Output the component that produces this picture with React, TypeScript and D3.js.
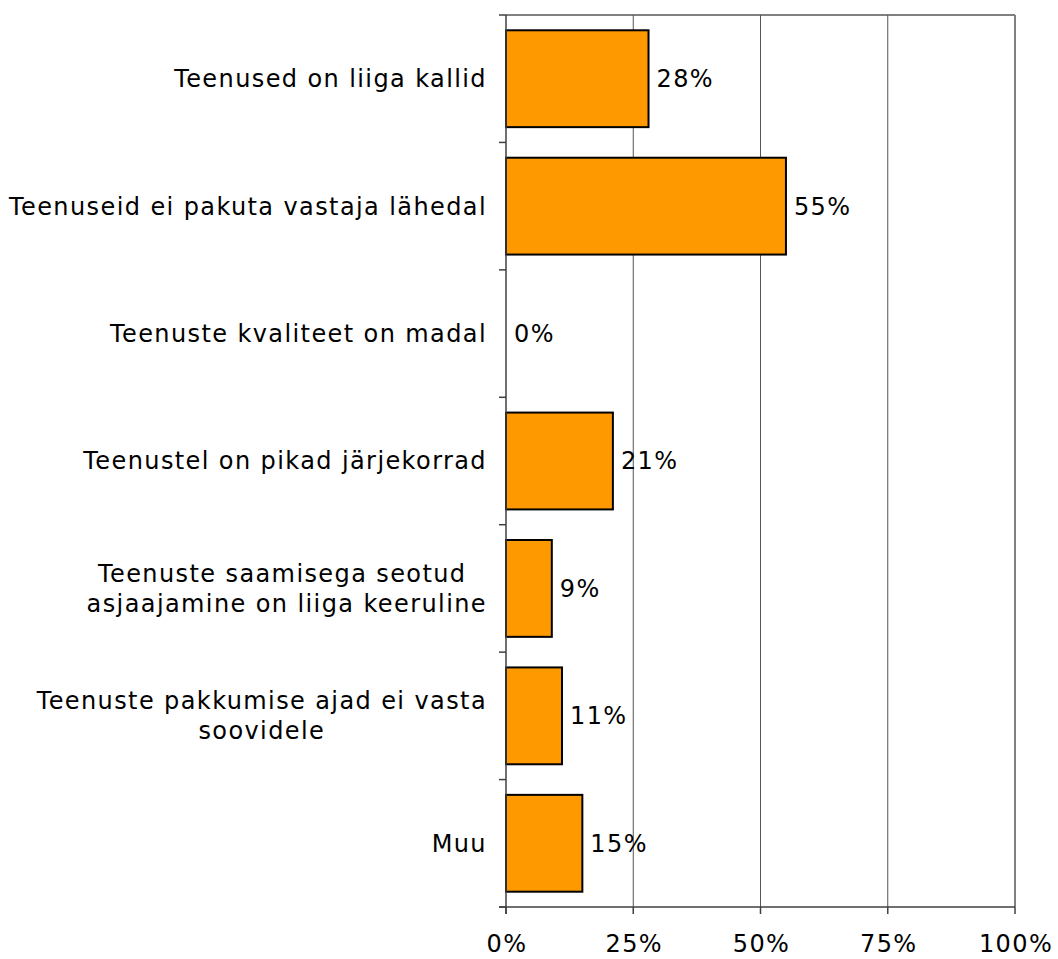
import React, { useRef, useEffect } from 'react';
import * as d3 from 'd3';

const categories = [
  'Teenused on liiga kallid',
  'Teenuseid ei pakuta vastaja lähedal',
  'Teenuste kvaliteet on madal',
  'Teenustel on pikad järjekorrad',
  'Teenuste saamisega seotud \nasjaajamine on liiga keeruline',
  'Teenuste pakkumise ajad ei vasta\nsoovidele',
  'Muu',
];
const values = [0.28, 0.55, 0, 0.21, 0.09, 0.11, 0.15];
const ticks = [0, 0.25, 0.5, 0.75, 1];

const W = 1058;
const H = 959;
const FONT = 'Verdana, "DejaVu Sans", sans-serif';
const FS = '24px';
const LS = '1.4px';

const App = () => {
  const svgRef = useRef<SVGSVGElement>(null);

  useEffect(() => {
    const svg = d3.select(svgRef.current);
    svg.selectAll('*').remove();

    const left = 506, right = 1015, top = 15, bottom = 907;

    const x = d3.scaleLinear().domain([0, 1]).range([left, right]);
    const y = d3.scaleBand<number>()
      .domain(d3.range(categories.length))
      .range([top, bottom])
      .paddingInner(0.24)
      .paddingOuter(0.12);
    const step = y.step();

    // plot frame (top and right) and gridlines
    svg.append('line')
      .attr('x1', left).attr('x2', right).attr('y1', top).attr('y2', top)
      .attr('stroke', '#808080').attr('stroke-width', 2);
    svg.append('line')
      .attr('x1', right).attr('x2', right).attr('y1', top).attr('y2', bottom)
      .attr('stroke', '#808080').attr('stroke-width', 2);
    svg.selectAll('.grid')
      .data(ticks.slice(1, -1))
      .enter()
      .append('line')
      .attr('class', 'grid')
      .attr('x1', d => x(d)).attr('x2', d => x(d))
      .attr('y1', top).attr('y2', bottom)
      .attr('stroke', '#555').attr('stroke-width', 1);

    // bars
    svg.selectAll('.bar')
      .data(values.map((v, i) => ({ v, i })).filter(d => d.v > 0))
      .enter()
      .append('rect')
      .attr('class', 'bar')
      .attr('x', x(0))
      .attr('y', d => y(d.i) as number)
      .attr('width', d => x(d.v) - x(0))
      .attr('height', y.bandwidth())
      .attr('fill', '#FF9900')
      .attr('stroke', '#000')
      .attr('stroke-width', 2);

    // value labels
    svg.selectAll('.val')
      .data(values)
      .enter()
      .append('text')
      .attr('class', 'val')
      .attr('x', d => x(d) + 8)
      .attr('y', (d, i) => (y(i) as number) + y.bandwidth() / 2)
      .attr('dy', '0.35em')
      .style('font-family', FONT)
      .style('font-size', FS)
      .style('letter-spacing', LS)
      .attr('fill', '#000')
      .text(d => `${Math.round(d * 100)}%`);

    // y axis line and tick marks at category boundaries
    svg.append('line')
      .attr('x1', left).attr('x2', left).attr('y1', top).attr('y2', bottom + 7)
      .attr('stroke', '#404040').attr('stroke-width', 1.5);
    svg.selectAll('.ytick')
      .data(d3.range(categories.length + 1))
      .enter()
      .append('line')
      .attr('class', 'ytick')
      .attr('x1', left - 7).attr('x2', left)
      .attr('y1', i => top + i * step).attr('y2', i => top + i * step)
      .attr('stroke', '#404040').attr('stroke-width', 1.5);

    // x axis
    svg.append('line')
      .attr('x1', left - 7).attr('x2', right).attr('y1', bottom).attr('y2', bottom)
      .attr('stroke', '#404040').attr('stroke-width', 1.5);
    svg.selectAll('.xtick')
      .data(ticks)
      .enter()
      .append('line')
      .attr('class', 'xtick')
      .attr('x1', d => x(d)).attr('x2', d => x(d))
      .attr('y1', bottom).attr('y2', bottom + 7)
      .attr('stroke', '#404040').attr('stroke-width', 1.5);
    svg.selectAll('.xlab')
      .data(ticks)
      .enter()
      .append('text')
      .attr('class', 'xlab')
      .attr('x', d => x(d) + 1)
      .attr('y', 952)
      .attr('text-anchor', 'middle')
      .style('font-family', FONT)
      .style('font-size', FS)
      .style('letter-spacing', LS)
      .attr('fill', '#000')
      .text(d => `${Math.round(d * 100)}%`);

    // category labels: lines centred on each other, block right-aligned
    const labelRight = 487;
    const lineH = 30;
    categories.forEach((cat, i) => {
      const lines = cat.split('\n');
      const g = svg.append('g');
      const texts = lines.map((line, j) => g.append('text')
        .attr('y', (y(i) as number) + y.bandwidth() / 2 + (j - (lines.length - 1) / 2) * lineH)
        .attr('dy', '0.35em')
        .attr('text-anchor', 'middle')
        .attr('xml:space', 'preserve')
        .style('white-space', 'pre')
        .style('font-family', FONT)
        .style('font-size', FS)
        .style('letter-spacing', LS)
        .attr('fill', '#000')
        .text(line));
      const maxW = d3.max(texts, t => (t.node() as SVGTextElement).getComputedTextLength()) || 0;
      texts.forEach(t => t.attr('x', labelRight - maxW / 2));
    });
  }, []);

  return (
    <svg
      ref={svgRef}
      width={W}
      height={H}
      style={{ position: 'absolute', left: 0, top: 0, background: '#fff' }}
    />
  );
};

export default App;
